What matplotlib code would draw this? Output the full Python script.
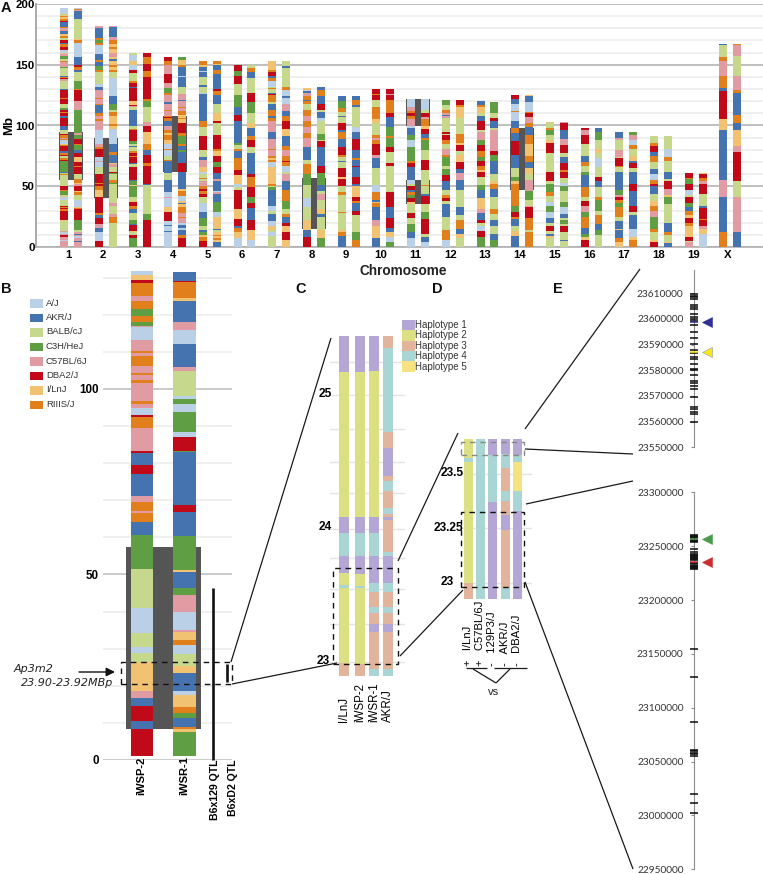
"""
Haplotype figure: genome-wide strain mosaic (A), chr 2 zoom (B),
haplotype blocks (C, D) and SNP positions around Ap3m2 (E).
"""

import matplotlib
matplotlib.use("Agg")
import matplotlib.pyplot as plt
from matplotlib.patches import Rectangle

plt.rcParams["font.family"] = ["Liberation Sans", "DejaVu Sans"]

W, H = 763, 874

# ── Strains and haplotypes ─────────────────────────────────────────────────
strain_codes  = ["A", "K", "B", "C", "P", "D", "I", "R"]
strain_names  = ["A/J", "AKR/J", "BALB/cJ", "C3H/HeJ", "C57BL/6J", "DBA2/J", "I/LnJ", "RIIIS/J"]
strain_colors = ["#B9D0E6", "#4473B0", "#C5D88B", "#5F9E42", "#E09BA3", "#C00A1A", "#F0C272", "#E07F1C"]

hap_codes  = ["1", "2", "3", "4", "5"]
hap_names  = ["Haplotype 1", "Haplotype 2", "Haplotype 3", "Haplotype 4", "Haplotype 5"]
hap_colors = ["#B4A7D5", "#DBE083", "#E2B49C", "#A9D5D5", "#F6E280"]

# ── Panel A: code + top of the block in Mb, bottom to top ──────────────────
chrom_labels = ["1", "2", "3", "4", "5", "6", "7", "8", "9", "10", "11", "12",
                "13", "14", "15", "16", "17", "18", "19", "X"]

chr1_a  = "P5 A6 P7 K7.5 P8 D10 P11 A12 P13 B21 I22 D30 R31 D32 R33 D34 B39 A41 I42 B43 C46 R47 D50 B59 R60 B61 K62 C71 D72 R73 B75 D76 R77 K79 D83 R84 I85 A88 R89 P90 R92 D93 B96 K100 D106 K108 D110 R111 D113 C114 B118 D122 R123 D129 K130 B137 P138 D139 R140 K141 B147 C148 P152 R153 B155 C157 P159 I160 A162 D165 R167 K168 D170 B172 R174 I175 K178 P180 R181 K185 D186 R188 I189 R190 B191 I192 A197"
chr1_b  = "P4 K5 P7 A9 P10 K10.5 P12 B14 C22 D31 R32 I33 A39 B43 R45 I46 D50 P52 I53 R56 B60 D66 R67 D70 I74 D77 K80 C84 R85 D89 C92 P94 C113 P120 D129 R130 C137 B144 K146 R148 D150 K156 A168 R170 I171 B188 K194 P195 R196 A197"
chr2_a  = "D5 A12 K16 P19 D24 K26 R28 D41 I47 R50 D52 R53 D60 B66 A70 P71 A74 D81 R82 P85 A96 P104 R105 P108 R110 K117 R118 P122 R123 P129 K132 A134 B144 R146 C149 K152 R154 K159 A166 R168 C170 R172 K180 P182"
chr2_b  = "B20 R25 P27 B34 P36 B52 C53 R55 B60 C61 D62 B66 P68 I69 K76 R78 K85 A97 I100 R101 I108 R111 B113 C118 K124 A139 B144 R146 I148 R150 I153 K155 I156 P160 I163 R165 I167 R170 P173 K181 P182"
chr3_a  = "C7 D10 B12 I13 D18 K19 C22 B28 K31 R34 D37 I38 B41 C50 I51 C54 K55 D66 B68 K69 D74 R75 D77 R79 B82 K83 B85 C87 D96 R97 B100 K113 B115 P116 D117 I120 D131 K132 D135 R137 B143 D146 A150 I153 A158 B160"
chr3_b  = "D22 C27 B51 K52 D67 R69 D76 K80 R85 I95 D100 P103 B115 C120 R122 D140 R145 D151 R156 D160"
chr4_a  = "A12 K13 A17 K18 A21 D29 I33 A40 P41 A45 K55 B61 K71 R72 B75 A80 R81 A85 I88 R92 I94 R96 P100 K104 R106 D107 R108 P112 R113 P118 K119 P125 R127 C131 P135 D142 P150 R153 D156"
chr4_b  = "D7 R10 K14 A16 K18 A20 P24 R25 P28 R33 I35 K36 I38 A42 R46 I48 K62 D69 K78 C80 K83 R85 C91 R94 D102 I105 R106 I109 R112 P114 R115 P120 K121 P126 B132 K140 A141 K148 R150 I154 C156"
chr5_a  = "D5 R8 I10 C12 K14 B17 C24 K29 A36 B41 D44 R46 D48 R50 P54 B56 R57 B60 A62 I66 P72 K74 B80 D91 B99 R104 K126 A127 B132 K133 B140 K144 A145 K148 I150 R153"
chr5_b  = "K4 I6 R7 I9 R10 I12 B14 K15 I25 A29 C37 K44 P45 A46 K54 P56 K61 D66 C70 D75 I79 R81 D92 B102 D104 I110 B118 K125 R128 D130 K142 R146 K150 I151 R153"
chr6_a  = "A7 I12 R16 K17 D23 I31 D47 B49 A52 I59 D63 R73 K79 R81 B84 C86 K104 D109 K115 C125 B134 D141 C145 D150"
chr6_b  = "A6 I14 D22 K32 D36 C41 D49 R58 D60 K77 B82 D88 R91 K98 I102 B110 C119 D127 B139 K144 R147 B150"
chr7_a  = "B9 A12 B14 I17 A21 K27 B30 A34 K47 C49 B50 R52 I66 A70 R72 I73 R75 P80 R81 P89 K95 P104 R106 K108 R113 K118 B119 R125 D126 K127 B130 R131 B132 A137 R139 K141 D144 R146 I153"
chr7_b  = "I6 D12 I17 D20 K25 R27 B31 C38 R47 K54 P60 B62 A67 R70 D71 R75 P80 R83 K91 I97 D104 R108 K112 P118 A123 K124 A129 R132 B147 K149 B153"
chr8_a  = "D8 K14 I22 B33 A40 B51 C60 R68 B72 K82 P90 R94 P99 R104 P108 R113 B118 R120 K121 R124 P127 K128 A129 I131"
chr8_b  = "C7 I14 B25 K27 I31 B39 P44 B46 K51 C61 D67 K82 D87 B88 C93 B104 A106 K111 B113 D118 K124 R129 K132"
chr9_a  = "K9 R12 I14 B28 R29 B43 R45 B50 D56 I58 D65 B70 K71 B74 R76 D82 K89 R95 K96 D102 B107 K108 B111 R114 C120 K124"
chr9_b  = "R6 C12 B26 D30 K36 R38 D41 I50 K52 D58 K66 D67 K72 R73 K80 D89 K95 A99 B115 K117 R121 K124"
chr10_a = "K7 I17 P22 K33 R36 I37 K39 R45 A51 B65 K73 P76 D85 R88 P90 R92 B102 I105 R115 B121 D125 R126 D130"
chr10_b = "C4 A8 I12 K16 D24 K33 D45 B67 D69 B78 D82 C90 R91 C99 K107 D110 R121 D125 P126 D130"
chr11_a = "A7 K12 C19 B24 D28 B35 I37 D40 C43 R45 K47 D50 B52 A55 K66 D69 R71 C82 A88 C92 K98 A100 P105 R108 D110 R112 P115 A122"
chr11_b = "A4 K8 B11 D23 C29 B35 D42 K44 B50 R51 B63 D72 B80 C88 R90 K93 D97 I100 R105 P107 D110 B113 A122"
chr12_a = "A6 R14 B25 K35 B38 D40 R43 B47 K54 D59 C64 B67 C74 R76 P81 B85 R88 D92 B93 D95 B106 P108 K109 P110 R113 B117 C121"
chr12_b = "B7 I11 K15 R22 B26 K33 B47 K55 P61 K64 D70 I76 B79 D84 I86 R93 B106 I115 R117 D121"
chr13_a = "C8 D13 A17 B20 D22 K28 P31 I40 K47 C51 B58 D62 I63 R67 D71 C74 R79 D84 C88 P95 B96 D104 K108 B110 I115 R117 K120"
chr13_b = "C6 K11 B17 K22 B27 R31 B41 K48 R52 I54 B60 K71 C76 D79 P96 B98 K104 D106 B110 C119"
chr14_a = "K9 I13 B17 K23 R25 D29 C34 R52 I54 C58 B65 K76 D87 K94 R98 K104 A111 R112 A118 K122 D125"
chr14_b = "R12 B14 R24 D33 P34 B39 C46 P55 B60 I65 K70 R75 I85 R92 K99 R102 P107 D110 R111 A119 K124 I125"
chr15_a = "B7 I9 K11 B13 D17 B20 K24 A29 C34 A37 B42 R45 C52 B54 D62 B77 D86 I88 B92 C96 R98 B102 I103"
chr15_b = "B5 K6 B12 D17 B19 C22 B24 K27 A33 C37 B46 C50 A53 B57 D62 R63 D69 K74 B77 D84 P89 K96 D102 P103"
chr16_a = "D6 I8 C11 K16 R25 C29 P34 D38 B41 R49 K59 C62 B67 R70 K75 B85 D92 P96 D98"
chr16_b = "B10 C14 K19 R26 B30 C39 R41 B49 K54 D58 B66 A73 B77 I81 B88 C95 K98"
chr17_a = "I4 R7 K14 I15 K21 B25 R33 C36 R39 D41 P43 C47 K62 B66 R67 D73 B74 P80 B88 P90 K95"
chr17_b = "R6 I8 A15 K26 B29 D34 K46 D52 K62 B65 D69 K71 I75 B81 R84 A88 P92 C95"
chr18_a = "D4 I6 B12 R15 C25 P30 R34 I38 B44 K50 D52 R55 A60 K64 B70 R75 K78 D83 R86 B91"
chr18_b = "K3 I4 B10 R12 K20 B35 C41 I43 P48 D54 B56 K62 B71 R74 A81 B91"
chr19_a = "P4 B5 D8 I17 R20 D24 I26 R30 K33 C36 D41 B43 A47 D52 C56 R57 D61"
chr19_b = "A11 I15 P17 D22 R23 D32 K34 B44 D52 P54 R57 D60 I61"
chrX_a  = "R12 K41 P55 K96 I105 D128 K131 R141 P153 R156 B166 K167"
chrX_b  = "K12 P41 B54 D78 P83 I96 K102 R109 K127 R129 P141 B157 P166 R167"

tracks_a = [chr1_a, chr2_a, chr3_a, chr4_a, chr5_a, chr6_a, chr7_a, chr8_a, chr9_a, chr10_a,
            chr11_a, chr12_a, chr13_a, chr14_a, chr15_a, chr16_a, chr17_a, chr18_a, chr19_a, chrX_a]
tracks_b = [chr1_b, chr2_b, chr3_b, chr4_b, chr5_b, chr6_b, chr7_b, chr8_b, chr9_b, chr10_b,
            chr11_b, chr12_b, chr13_b, chr14_b, chr15_b, chr16_b, chr17_b, chr18_b, chr19_b, chrX_b]

qtl_chrom = [0, 1, 3, 7, 10, 10, 13]
qtl_low   = [55, 40, 62, 15, 100, 35, 47]
qtl_high  = [95, 90, 108, 57, 122, 55, 98]

# ── Panel B: code + block length in Mb, bottom to top ──────────────────────
iwsp2_start = 1.08
iwsp2 = ("D7.3 K2 D4.2 K2.25 P1.8 I7.9 B2.25 A1.8 B3.6 A6.74 B10.6 C9.14 K3.4 R2.5 P.5 R2.5 P1.6 K6 D2.25 "
         "K3.4 D.4 P6.4 R2.9 D.45 A1.8 P1.1 R.9 P4.8 R.9 P1.35 R.45 P2 R2.7 P.7 R.45 P3.15 A3.4 P.4 C1 R1.5 "
         "C2 R2.1 P1.35 R3.6 D.7 I1.35 A1.26")
iwsr1_start = 1.08
iwsr1 = ("C6.56 I.8 R.4 K2.4 C1.35 R1.8 I3 A1.2 K4.85 I1.8 B3.4 A2.25 R1.5 I2 P.6 A4.8 P4.7 C1.9 K4.2 I.6 "
         "C9.24 K6.5 D1.8 K14.2 C.45 D3.7 A1.4 C5.2 A2.4 C1.2 A.7 B6.9 P1.1 K6.2 A3.7 P2.1 K5.6 I1 R4.2 D.45 K2.4")
b_labels = ["iWSP-2", "iWSR-1"]
b_ticks  = [0, 50, 100]
b_qtl_names = ["B6x129 QTL", "B6xD2 QTL"]
b_qtl_low   = [0, 21]
b_qtl_high  = [46.4, 25.9]
b_box_low, b_box_high = 8.3, 57.5
b_zoom_low, b_zoom_high = 20.6, 26.4

# ── Panel C: haplotype blocks, first digit is the haplotype, rest the length ──
c_start = 22.898
c_labels = ["I/LnJ", "iWSP-2", "iWSR-1", "AKR/J"]
c_ilnj = ["3.095", "2.562", "4.025", "2.087", "1.132", "4.167", "1.125", "21.086", "1.27"]
c_iwsp = ["3.087", "2.569", "4.02", "2.087", "1.137", "4.167", "1.125", "21.086", "1.27"]
c_iwsr = ["4.05", "3.28", "1.06", "3.08", "4.05", "3.107", "4.072", "1.202", "4.167", "1.125",
          "21.091", "1.265"]
c_akr  = ["4.05", "3.28", "1.06", "3.08", "4.05", "3.107", "4.072", "1.202", "4.03", "3.237",
          "1.025", "3.017", "4.045", "3.132", "4.072", "3.04", "1.21", "3.12", "4.629", "3.09"]
c_tracks = [c_ilnj, c_iwsp, c_iwsr, c_akr]
c_ticks = [23, 24, 25]
c_grid  = [23.29, 23.55, 23.78, 24.27, 24.5, 24.75, 25.25]
c_box_low, c_box_high = 22.99, 23.704

# ── Panel D ────────────────────────────────────────────────────────────────
d_start = 22.926
d_labels = ["+   I/LnJ", "+   C57BL/6J", "-   129P3/J", "-   AKR/J", "-   DBA2/J"]
d_ilnj = ["3.074", "2.558", "4.018", "2.086"]
d_c57  = ["4.737"]
d_129  = ["1.448", "4.215", "1.074"]
d_akr  = ["4.051", "3.266", "1.069", "3.066", "4.046", "3.103", "4.065", "1.071"]
d_dba  = ["1.406", "4.092", "5.134", "4.031", "1.074"]
d_tracks = [d_ilnj, d_c57, d_129, d_akr, d_dba]
d_ticks = [23, 23.25, 23.5]
d_tick_text = ["23", "23.25", "23.5"]
d_box_low, d_box_high = 22.98, 23.328
d_top_low, d_top_high = 23.59, 23.65

# ── Panel E: SNP positions ─────────────────────────────────────────────────
e_up_ticks = [23550000, 23560000, 23570000, 23580000, 23590000, 23600000, 23610000]
e_up_snps = [23609610, 23608961, 23608441, 23607792, 23605454, 23604805, 23604026, 23602078,
             23600909, 23599870, 23599220, 23597532, 23594805, 23592467, 23590260, 23587922,
             23586623, 23585325, 23584286, 23582338, 23580649, 23580130, 23578182, 23575844,
             23574935, 23574026, 23572727, 23569480, 23565844, 23564805, 23563896, 23562987,
             23560000]
e_up_blue, e_up_yellow = 23598701, 23587272

e_lo_ticks = [22950000, 23000000, 23050000, 23100000, 23150000, 23200000, 23250000, 23300000]
e_lo_snps = [23260500, 23259500, 23258500, 23257500, 23255500, 23254500, 23253500,
             23247200, 23244700, 23242500, 23241500, 23240500, 23239500, 23238700,
             23237700, 23236700, 23234700, 23234000, 23232600, 23231600, 23230600,
             23229600, 23228700, 23154640, 23128800, 23086400, 23061000, 23059750,
             23058200, 23056650, 23055100, 23019500, 23011760, 23002480]
e_lo_green, e_lo_red = 23256500, 23235700


# ── Helpers ────────────────────────────────────────────────────────────────
def add_axes_px(fig, left, top, right, bottom):
    return fig.add_axes([left / W, 1 - bottom / H, (right - left) / W, (bottom - top) / H])


def parse_tops(text):
    items = text.split()
    codes = [s[0] for s in items]
    tops = [float(s[1:]) for s in items]
    return codes, [0.0] + tops[:-1], tops


def parse_lengths(items, start):
    codes, bottoms, tops = [], [], []
    pos = start
    for s in items:
        codes.append(s[0])
        bottoms.append(pos)
        pos += float(s[1:])
        tops.append(pos)
    return codes, bottoms, tops


def draw_track(ax, x, width, parsed, palette):
    codes, bottoms, tops = parsed
    heights = [t - b for t, b in zip(tops, bottoms)]
    ax.bar([x] * len(codes), heights, bottom=bottoms, width=width,
           color=[palette[c] for c in codes], linewidth=0, zorder=3)


def clean_axes(ax):
    for side in ["top", "right", "bottom", "left"]:
        ax.spines[side].set_visible(False)
    ax.patch.set_visible(False)
    ax.set_xticks([])
    ax.tick_params(which="both", length=0)


strain_palette = dict(zip(strain_codes, strain_colors))
hap_palette = dict(zip(hap_codes, hap_colors))

fig = plt.figure(figsize=(W / 100, H / 100), dpi=100)

# ── Panel A ────────────────────────────────────────────────────────────────
ax = add_axes_px(fig, 36, 4, 763, 247)
ax.set_xlim(-0.0086, 20.94)
ax.set_ylim(0, 200)
ax.patch.set_visible(False)
for side in ["top", "right"]:
    ax.spines[side].set_visible(False)
ax.spines["left"].set_color("#a8a8a8")
ax.spines["left"].set_linewidth(1.4)
ax.spines["bottom"].set_color("#b0b0b0")
ax.spines["bottom"].set_linewidth(1.2)
ax.set_yticks([0, 50, 100, 150, 200])
ax.set_yticks(range(10, 200, 10), minor=True)
ax.grid(True, which="major", axis="y", color="#b4b4b4", linewidth=1.2)
ax.grid(True, which="minor", axis="y", color="#ececec", linewidth=1.2)
ax.set_axisbelow(True)
ax.tick_params(which="both", length=0)
ax.tick_params(axis="y", which="major", pad=1, labelsize=8.2)
for lab in ax.get_yticklabels():
    lab.set_fontweight("bold")
ax.set_xticks([i + 1 - 0.07 for i in range(len(chrom_labels))], chrom_labels,
              fontsize=8.2, fontweight="bold")
ax.tick_params(axis="x", pad=2)
ax.set_ylabel("Mb", fontsize=9.5, fontweight="bold")
ax.yaxis.set_label_coords(-0.029, 0.5)

for i in range(len(chrom_labels)):
    draw_track(ax, i + 1 - 0.2, 0.23, parse_tops(tracks_a[i]), strain_palette)
    draw_track(ax, i + 1 + 0.2, 0.23, parse_tops(tracks_b[i]), strain_palette)
for chrom, low, high in zip(qtl_chrom, qtl_low, qtl_high):
    ax.add_patch(Rectangle((chrom + 1 - 0.345, low), 0.69, high - low,
                           facecolor="#555555", edgecolor="none", zorder=2))

# ── Panel B ────────────────────────────────────────────────────────────────
ax = add_axes_px(fig, 103, 271, 232, 760)
ax.set_xlim(103, 232)
ax.set_ylim(0, 131.8)
clean_axes(ax)
ax.set_yticks(b_ticks)
ax.set_yticks([10, 20, 30, 40, 60, 70, 80, 90, 110, 120, 130], minor=True)
ax.grid(True, which="major", axis="y", color="#bdbdbd", linewidth=1.1)
ax.grid(True, which="minor", axis="y", color="#ececec", linewidth=1.1)
ax.set_axisbelow(True)
ax.tick_params(axis="y", which="major", pad=3, labelsize=8.4)
for lab in ax.get_yticklabels():
    lab.set_fontweight("bold")
ax.add_patch(Rectangle((126.5, b_box_low), 74, b_box_high - b_box_low,
                       facecolor="#555555", edgecolor="none", zorder=2))
draw_track(ax, 142, 22.4, parse_lengths(iwsp2.split(), iwsp2_start), strain_palette)
draw_track(ax, 184.3, 22.4, parse_lengths(iwsr1.split(), iwsr1_start), strain_palette)
ax.add_patch(Rectangle((121.5, b_zoom_low), 110.5, b_zoom_high - b_zoom_low, fill=False, clip_on=False,
                       edgecolor="#111111", linestyle=(0, (4, 3.5)), linewidth=1, zorder=5))
ax.vlines([213, 226.5], b_qtl_low, b_qtl_high, color="#111111", linewidth=1.9, zorder=4, clip_on=False)
for x, label in zip([141.5, 184], b_labels):
    ax.text(x, 1.0, label, rotation=90, ha="center", va="top", fontsize=8, fontweight="bold", zorder=6)
for x, label in zip([215, 233], b_qtl_names):
    ax.text(x, 0.2, label, rotation=90, ha="center", va="top", fontsize=7.6, fontweight="bold", zorder=6)

# ── Panel C ────────────────────────────────────────────────────────────────
ax = add_axes_px(fig, 330, 335.7, 405, 676)
ax.set_xlim(330, 405)
ax.set_ylim(c_start, 25.445)
clean_axes(ax)
ax.set_yticks(c_ticks)
ax.set_yticklabels([])
ax.set_yticks(c_grid, minor=True)
ax.grid(True, which="both", axis="y", color="#e4e4e4", linewidth=1)
ax.set_axisbelow(True)
for tick in c_ticks:
    ax.text(329.5 if tick == 23 else 332, tick + 0.012, str(tick), ha="right", va="center",
            fontsize=8.6, fontweight="bold", zorder=6)
for x, label, track in zip([344.3, 360.2, 373.8, 387.7], c_labels, c_tracks):
    draw_track(ax, x, 10, parse_lengths(track, c_start), hap_palette)
    ax.text(x, c_start - 0.345, label, rotation=90, ha="center", va="bottom", fontsize=8.3)
ax.add_patch(Rectangle((333.3, c_box_low), 64.4, c_box_high - c_box_low, fill=False, clip_on=False,
                       edgecolor="#111111", linestyle=(0, (4, 3.5)), linewidth=1, zorder=5))

# ── Panel D ────────────────────────────────────────────────────────────────
ax = add_axes_px(fig, 460, 439, 532, 598.7)
ax.set_xlim(460, 532)
ax.set_ylim(d_start, 23.663)
clean_axes(ax)
ax.set_yticks(d_ticks)
ax.set_yticklabels([])
ax.grid(True, which="major", axis="y", color="#e4e4e4", linewidth=1)
ax.set_axisbelow(True)
for tick, text in zip(d_ticks, d_tick_text):
    ax.text(454 if tick == 23 else 463.5, tick + 0.004, text, ha="right", va="center",
            fontsize=8.6, fontweight="bold", zorder=6)
for x, label, track in zip([468, 480.3, 492, 505, 517.8], d_labels, d_tracks):
    draw_track(ax, x, 9, parse_lengths(track, d_start), hap_palette)
    ax.text(x - 0.5, d_start - 0.31, label, rotation=90, ha="center", va="bottom", fontsize=8.1)
ax.add_patch(Rectangle((461, d_box_low), 63, d_box_high - d_box_low, fill=False, clip_on=False,
                       edgecolor="#111111", linestyle=(0, (4, 3.5)), linewidth=1, zorder=5))
ax.add_patch(Rectangle((461, d_top_low), 63, d_top_high - d_top_low, fill=False, clip_on=False,
                       edgecolor="#888888", linestyle=(0, (4, 3.5)), linewidth=1, zorder=5))

# ── Panel E ────────────────────────────────────────────────────────────────
for box, ylim, ticks, snps, marks in [
    ((680, 270, 722, 447.3), (23550000, 23619077), e_up_ticks, e_up_snps,
     [(e_up_blue, "#2E3192", "#2E3192"), (e_up_yellow, "#F5E81E", "#999999")]),
    ((680, 492.3, 722, 869.3), (22950000, 23300000), e_lo_ticks, e_lo_snps,
     [(e_lo_green, "#4C9A4C", "#4C9A4C"), (e_lo_red, "#CC2D30", "#CC2D30")]),
]:
    ax = add_axes_px(fig, *box)
    ax.set_xlim(680, 722)
    ax.set_ylim(*ylim)
    ax.patch.set_visible(False)
    for side in ["top", "right", "bottom"]:
        ax.spines[side].set_visible(False)
    ax.spines["left"].set_position(("data", 694))
    ax.spines["left"].set_color("#8c8c8c")
    ax.set_xticks([])
    ax.set_yticks(ticks)
    ax.set_yticklabels([str(t) for t in ticks], family="Lato", fontsize=7.3, color="#333333")
    ax.tick_params(axis="y", length=2.5, width=0.8, color="#8c8c8c", pad=5)
    ax.hlines(snps, 690.2, 698.2, color="#0a0a0a", linewidth=1.1, zorder=3, clip_on=False)
    for value, face, edge in marks:
        ax.hlines([value], 690.2, 698.2, color=face, linewidth=1.1, zorder=4)
        ax.plot([706.5], [value], marker="<", markersize=7.6, markerfacecolor=face,
                markeredgecolor=edge, markeredgewidth=0.4, linestyle="none", zorder=4)

# ── Overlay: legends, connectors, panel letters ────────────────────────────
ov = fig.add_axes([0, 0, 1, 1], zorder=10)
ov.set_xlim(0, W)
ov.set_ylim(H, 0)
ov.axis("off")
ov.patch.set_visible(False)

for i, (name, color) in enumerate(zip(strain_names, strain_colors)):
    y = 303 + i * 14.5
    ov.add_patch(Rectangle((30, y - 4), 12.5, 8.5, facecolor=color, edgecolor="none"))
    ov.text(46, y, name, ha="left", va="center", fontsize=6.8, color="#333333")

for i, (name, color) in enumerate(zip(hap_names, hap_colors)):
    y = 325 + i * 10.4
    ov.add_patch(Rectangle((402, y - 5.2), 12.5, 10.4, facecolor=color, edgecolor="none"))
    ov.text(415, y, name, ha="left", va="center", fontsize=7, color="#333333")

connectors = [
    ((231, 662), (331, 338)), ((232, 684), (337, 663)),
    ((398, 561), (458, 433)), ((400, 656), (463, 590)),
    ((525, 429), (640, 269)), ((525, 449), (633, 454)),
    ((526, 504), (633, 481)), ((525, 582), (633, 869)),
    ((473, 669), (496, 683)), ((510, 669), (496, 683)),
    ((466, 668), (487, 668)), ((494, 668), (527, 668)),
]
for p, q in connectors:
    ov.plot([p[0], q[0]], [p[1], q[1]], color="#1a1a1a", linewidth=0.9, solid_capstyle="butt")

ov.text(494, 692, "vs", ha="center", va="center", fontsize=8, color="#222222")

ov.text(14, 669, "Ap3m2", family="DejaVu Sans", style="italic", ha="left", va="center", fontsize=8, color="#222222")
ov.text(20.5, 683.5, "23.90-23.92MBp", family="DejaVu Sans", style="italic", ha="left", va="center",
        fontsize=8, color="#222222")
ov.annotate("", xy=(115, 672), xytext=(79, 672),
            arrowprops=dict(arrowstyle="-|>", color="#111111", lw=1, mutation_scale=13, shrinkA=0, shrinkB=0))

ov.text(403, 271, "Chromosome", ha="center", va="center", fontsize=9.8, fontweight="bold", color="#222222")
for x, y, letter in [(1, 8, "A"), (1, 289, "B"), (295, 289, "C"), (432, 289, "D"), (553, 289, "E")]:
    ov.text(x, y, letter, ha="left", va="center", fontsize=10.5, fontweight="bold", color="#111111")

fig.savefig("out.png", dpi=100)
plt.close(fig)
